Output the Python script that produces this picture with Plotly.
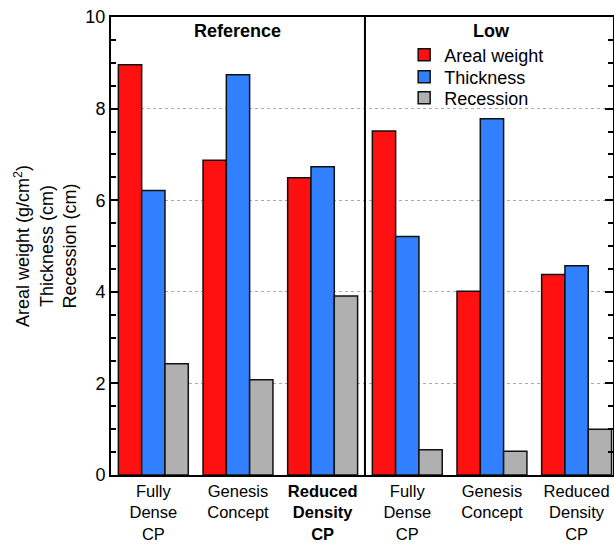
import plotly.graph_objects as go

categories = ["Fully<br>Dense<br>CP", "Genesis<br>Concept", "<b>Reduced<br>Density<br>CP</b>",
              "Fully<br>Dense<br>CP", "Genesis<br>Concept", "Reduced<br>Density<br>CP"]
groups = ["Reference", "Low"]
areal_weight = [8.96, 6.87, 6.49, 7.51, 4.01, 4.38]
thickness = [6.21, 8.74, 6.73, 5.21, 7.78, 4.57]
recession = [2.43, 2.08, 3.91, 0.55, 0.52, 1.00]
y_ticks = [0, 2, 4, 6, 8, 10]

xpos = list(range(len(categories)))
FONT = "Liberation Sans, Arial, Helvetica, sans-serif"

fig = go.Figure()
series = [("Areal weight", areal_weight, "#FF1010", "legend", 0.917),
          ("Thickness", thickness, "#3080FF", "legend2", 0.869),
          ("Recession", recession, "#B0B0B0", "legend3", 0.823)]
legends = {}
for name, vals, col, leg, ly in series:
    fig.add_trace(go.Bar(x=xpos, y=vals, name=name, marker_color=col,
                         marker_line_color="#111111", marker_line_width=1.5,
                         legend=leg))
    legends[leg] = dict(x=0.584, y=ly, xanchor="left", yanchor="middle",
                        bgcolor="rgba(0,0,0,0)", font=dict(size=18),
                        borderwidth=0)

fig.update_layout(
    width=614, height=544,
    margin=dict(l=111, r=1, t=17, b=69),
    paper_bgcolor="white", plot_bgcolor="white",
    barmode="group", bargap=0.174, bargroupgap=0,
    font=dict(family=FONT, size=18, color="black"),
    showlegend=True,
    **legends,
)
fig.update_xaxes(range=[-0.5, 5.43], tickvals=xpos, ticktext=categories,
                 showline=True, linecolor="black", linewidth=2, mirror=True,
                 ticks="", showgrid=False, zeroline=False, automargin=False,
                 tickfont=dict(size=16.5))
fig.update_yaxes(range=[0, 10], tickvals=y_ticks, showline=True, linecolor="black",
                 linewidth=2, mirror="allticks", ticks="inside", ticklen=8,
                 tickwidth=2, tickcolor="black", automargin=False,
                 minor=dict(dtick=0.5, ticks="inside", ticklen=5, tickwidth=1.5,
                            tickcolor="black", showgrid=False),
                 showgrid=True, gridcolor="#aaaaaa", griddash="dot", gridwidth=1,
                 zeroline=False, tickfont=dict(size=18),
                 title=dict(text="Areal weight (g/cm<sup>2</sup>)<br>Thickness (cm)<br>Recession (cm)",
                            font=dict(size=18), standoff=4))

fig.add_shape(type="line", xref="x", yref="y domain", x0=2.5, x1=2.5, y0=0, y1=1,
              line=dict(color="black", width=2))
fig.add_annotation(x=1, y=0.969, xref="x", yref="paper", yanchor="middle",
                   text="<b>%s</b>" % groups[0], showarrow=False, font=dict(size=18))
fig.add_annotation(x=4, y=0.969, xref="x", yref="paper", yanchor="middle",
                   text="<b>%s</b>" % groups[1], showarrow=False, font=dict(size=18))

fig.write_html("out.html", config={"displayModeBar": False},
               post_script="document.body.style.margin='0';document.body.style.overflow='hidden';")
